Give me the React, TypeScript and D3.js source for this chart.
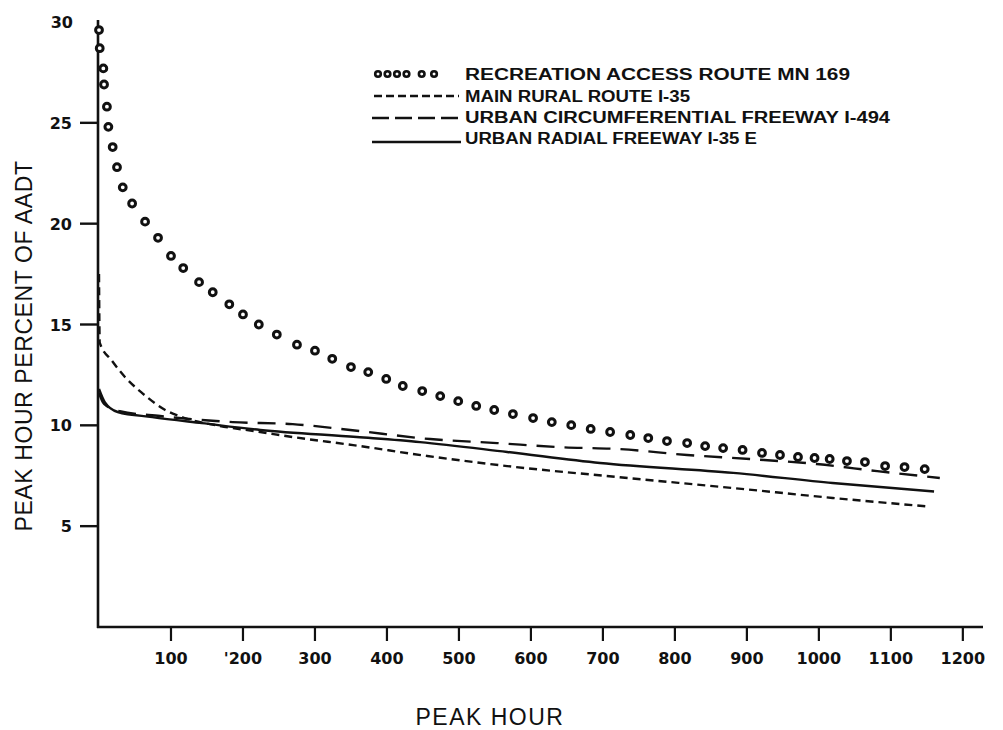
import React from "react";
import * as d3 from "d3";

// Recreation access route MN 169 (plotted as rings)
const recreationHours = [0, 1, 6, 7, 11, 13, 19, 25, 33, 46, 64, 82, 100, 117, 139, 158, 181, 200, 222, 247, 275, 300, 324, 350, 374, 399, 422, 449, 474, 499, 524, 549, 575, 603, 629, 656, 683, 710, 738, 763, 789, 817, 842, 867, 894, 921, 946, 971, 994, 1015, 1039, 1064, 1092, 1119, 1147];
const recreationPct = [29.6, 28.7, 27.7, 26.9, 25.8, 24.8, 23.8, 22.8, 21.8, 21.0, 20.1, 19.3, 18.4, 17.8, 17.1, 16.6, 16.0, 15.5, 15.0, 14.5, 14.0, 13.7, 13.3, 12.89, 12.64, 12.3, 11.95, 11.7, 11.45, 11.2, 10.96, 10.76, 10.56, 10.36, 10.16, 10.01, 9.82, 9.67, 9.52, 9.37, 9.22, 9.12, 8.97, 8.87, 8.78, 8.63, 8.53, 8.43, 8.38, 8.33, 8.23, 8.18, 7.98, 7.93, 7.83];

// Main rural route I-35
const ruralHours = [0, 1, 18, 36, 60, 92, 119, 168, 224, 269, 353, 456, 567, 719, 881, 1019, 1150];
const ruralPct = [17.5, 14.1, 13.2, 12.4, 11.6, 10.76, 10.36, 9.97, 9.67, 9.42, 9.02, 8.48, 7.98, 7.44, 6.89, 6.4, 5.98];

// Urban circumferential freeway I-494
const circumHours = [0, 7, 29, 85, 186, 269, 349, 460, 553, 640, 724, 817, 904, 997, 1081, 1168];
const circumPct = [11.6, 11.06, 10.7, 10.46, 10.16, 10.06, 9.77, 9.32, 9.12, 8.92, 8.82, 8.53, 8.33, 8.08, 7.73, 7.39];

// Urban radial freeway I-35E
const radialHours = [0, 8, 26, 74, 143, 224, 358, 446, 567, 696, 881, 1019, 1160];
const radialPct = [11.8, 11.15, 10.66, 10.41, 10.11, 9.77, 9.42, 9.17, 8.68, 8.13, 7.64, 7.14, 6.72];

const xTicks = [100, 200, 300, 400, 500, 600, 700, 800, 900, 1000, 1100, 1200];
const xTickLabels = ["100", "'200", "300", "400", "500", "600", "700", "800", "900", "1000", "1100", "1200"];
const yTicks = [5, 10, 15, 20, 25, 30];

const legendLabels = [
  "RECREATION ACCESS ROUTE MN 169",
  "MAIN RURAL ROUTE  I-35",
  "URBAN CIRCUMFERENTIAL FREEWAY I-494",
  "URBAN RADIAL FREEWAY I-35 E",
];

const W = 1003;
const H = 730;
const INK = "#111";

export default function App() {
  const x = d3.scaleLinear().domain([0, 1228]).range([99, 983]);
  const y = d3.scaleLinear().domain([0, 30]).range([627, 22]);

  const line = d3
    .line<[number, number]>()
    .x((d) => x(d[0]))
    .y((d) => y(d[1]))
    .curve(d3.curveMonotoneX);

  const zip = (a: number[], b: number[]) => a.map((v, i) => [v, b[i]] as [number, number]);

  const rural = line(zip(ruralHours, ruralPct)) || "";
  const circum = line(zip(circumHours, circumPct)) || "";
  const radial = line(zip(radialHours, radialPct)) || "";

  const tickFont = { fontFamily: "DejaVu Sans", fontWeight: 700, fontSize: 16 };
  const legendX0 = 374;
  const legendX1 = 459;
  const legendTextX = 465;
  const legendRows = [74, 96, 117, 138];
  const legendWidths = [385, 225, 425, 292];

  return (
    <div>
      <style>{"body{margin:0;background:#fff}"}</style>
      <svg width={W} height={H} style={{ display: "block", background: "#fff" }}>
        {/* axes */}
        <line x1={x(0) - 1} x2={x(0) - 1} y1={y(30) - 2} y2={y(0) + 1} stroke={INK} strokeWidth={2.6} />
        <line x1={x(0) - 2} x2={x.range()[1]} y1={y(0)} y2={y(0)} stroke={INK} strokeWidth={2.6} />

        {yTicks.map((t) => (
          <g key={t}>
            {t !== 30 && <line x1={80} x2={x(0)} y1={y(t)} y2={y(t)} stroke={INK} strokeWidth={2.4} />}
            <text x={t === 30 ? 73 : 72} y={y(t) + 6} textAnchor="end" {...tickFont} fill={INK}>
              {t}
            </text>
          </g>
        ))}

        {xTicks.map((t, i) => (
          <g key={t}>
            <line x1={x(t)} x2={x(t)} y1={y(0)} y2={y(0) + 14} stroke={INK} strokeWidth={2.2} />
            <text x={x(t)} y={664} textAnchor="middle" {...tickFont} fill={INK}>
              {xTickLabels[i]}
            </text>
          </g>
        ))}

        {/* axis titles */}
        <text x={490} y={725} textAnchor="middle" fontFamily="Liberation Sans" fontSize={23} letterSpacing={1.5} fill={INK}>
          PEAK HOUR
        </text>
        <text
          transform={`translate(32,346) rotate(-90)`}
          textAnchor="middle"
          fontFamily="Liberation Sans"
          fontSize={23}
          letterSpacing={0.6}
          fill={INK}
        >
          PEAK HOUR PERCENT OF AADT
        </text>

        {/* series */}
        <path d={circum} fill="none" stroke={INK} strokeWidth={2.4} strokeDasharray="18 10" />
        <path d={rural} fill="none" stroke={INK} strokeWidth={2.4} strokeDasharray="8 5" />
        <path d={radial} fill="none" stroke={INK} strokeWidth={2.4} />
        {recreationHours.map((h, i) => (
          <circle key={i} cx={x(h)} cy={y(recreationPct[i])} r={3.4} fill="#fff" stroke={INK} strokeWidth={3} />
        ))}

        {/* legend */}
        <g>
          {[0, 1, 2, 3, 4.6, 5.9].map((k, i) => (
            <circle key={i} cx={legendX0 + 4 + k * 9.5} cy={legendRows[0]} r={2.8} fill="#fff" stroke={INK} strokeWidth={2.6} />
          ))}
          <line x1={legendX0} x2={legendX1} y1={legendRows[1]} y2={legendRows[1]} stroke={INK} strokeWidth={2.6} strokeDasharray="8 4" />
          <line x1={legendX0 - 2} x2={legendX1} y1={legendRows[2] + 1} y2={legendRows[2] + 1} stroke={INK} strokeWidth={2.6} strokeDasharray="17 6" />
          <line x1={legendX0 - 2} x2={legendX1 + 2} y1={legendRows[3] + 4} y2={legendRows[3] + 4} stroke={INK} strokeWidth={2.6} />
          {legendLabels.map((s, i) => (
            <text
              key={s}
              x={legendTextX}
              y={legendRows[i] + 6}
              fontFamily="Liberation Sans"
              fontWeight={700}
              fontSize={16}
              textLength={legendWidths[i]}
              lengthAdjust="spacingAndGlyphs"
              fill={INK}
            >
              {s}
            </text>
          ))}
        </g>
      </svg>
    </div>
  );
}
